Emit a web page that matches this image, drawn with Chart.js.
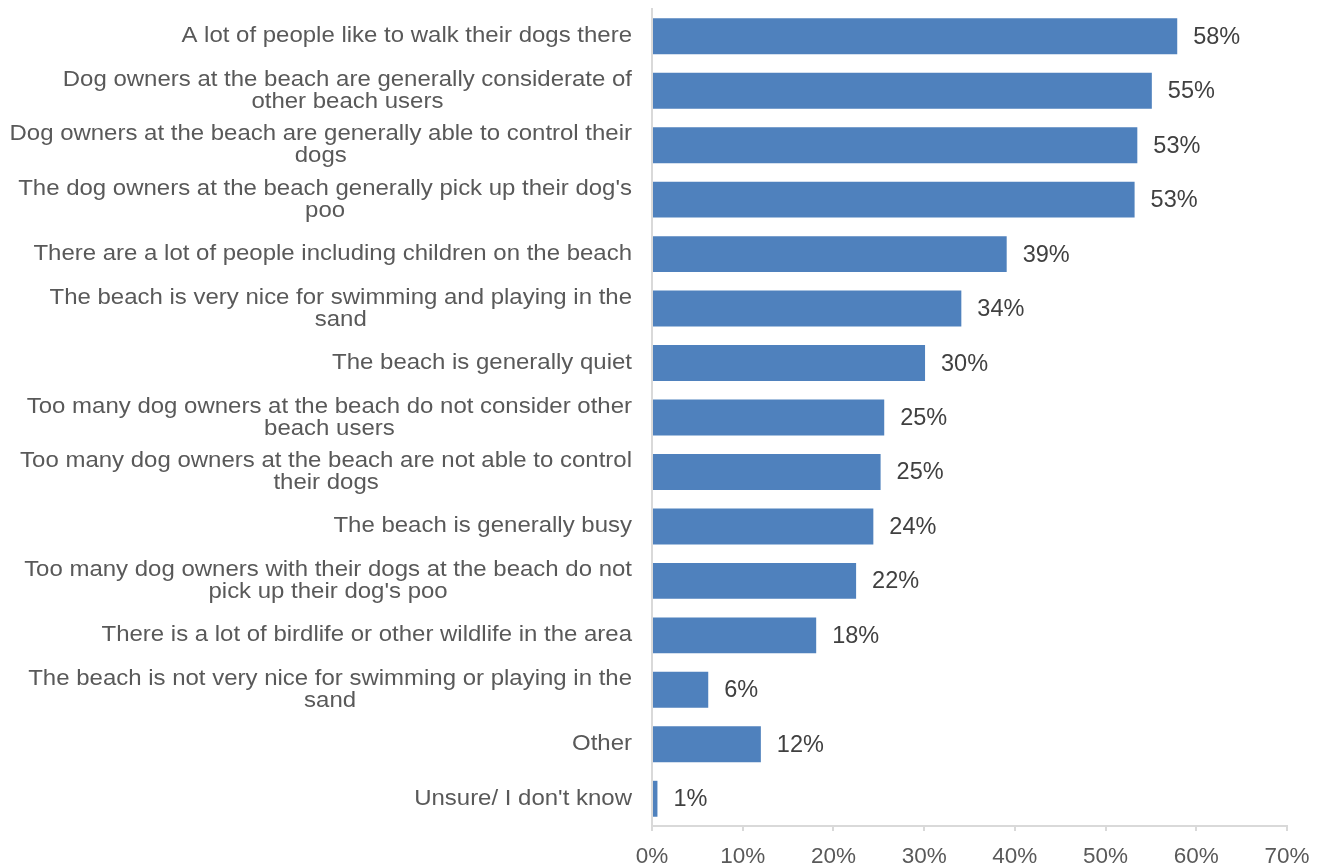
<!DOCTYPE html>
<html>
<head>
<meta charset="utf-8">
<script src="https://cdn.jsdelivr.net/npm/chart.js@4/dist/chart.umd.min.js"></script>
<style>
  html, body { margin: 0; padding: 0; background: #fff; }
  #wrap { width: 1328px; height: 866px; }
</style>
</head>
<body>
<div id="wrap"><canvas id="beachChart" width="1328" height="866"></canvas></div>
<script>
// Categories (line breaks as in the original)
const categories = [
  ["A lot of people like to walk their dogs there"],
  ["Dog owners at the beach are generally considerate of", "other beach users"],
  ["Dog owners at the beach are generally able to control their", "dogs"],
  ["The dog owners at the beach generally pick up their dog's", "poo"],
  ["There are a lot of people including children on the beach"],
  ["The beach is very nice for swimming and playing in the", "sand"],
  ["The beach is generally quiet"],
  ["Too many dog owners at the beach do not consider other", "beach users"],
  ["Too many dog owners at the beach are not able to control", "their dogs"],
  ["The beach is generally busy"],
  ["Too many dog owners with their dogs at the beach do not", "pick up their dog's poo"],
  ["There is a lot of birdlife or other wildlife in the area"],
  ["The beach is not very nice for swimming or playing in the", "sand"],
  ["Other"],
  ["Unsure/ I don't know"]
];

// Share of respondents (%)
const values = [57.9, 55.1, 53.5, 53.2, 39.1, 34.1, 30.1, 25.6, 25.2, 24.4, 22.5, 18.1, 6.2, 12.0, 0.6];
const valueLabels = ["58%", "55%", "53%", "53%", "39%", "34%", "30%", "25%", "25%", "24%", "22%", "18%", "6%", "12%", "1%"];

// x axis ticks
const xTicks = [0, 10, 20, 30, 40, 50, 60, 70];

const FONT = "'Liberation Sans', Arial, sans-serif";

// Draw the category labels: block right-aligned, lines centred inside the block
// (text in the original is a bit wider than plain Arial, so stretch it slightly)
const categoryLabels = {
  id: 'categoryLabels',
  afterDraw(chart) {
    const ctx = chart.ctx;
    const y = chart.scales.y;
    const lineH = 22;
    const stretch = 1.09;
    const right = chart.chartArea.left - 20;
    ctx.save();
    ctx.font = '22px ' + FONT;
    ctx.fillStyle = '#595959';
    ctx.textBaseline = 'middle';
    ctx.textAlign = 'center';
    categories.forEach((lines, i) => {
      const cy = y.getPixelForValue(i);
      const maxW = Math.max(...lines.map(l => ctx.measureText(l).width)) * stretch;
      const top = cy - (lines.length - 1) * lineH / 2;
      lines.forEach((l, k) => {
        ctx.save();
        ctx.translate(right - maxW / 2, top + k * lineH);
        ctx.scale(stretch, 1);
        ctx.fillText(l, 0, 0);
        ctx.restore();
      });
    });
    ctx.restore();
  }
};

// Value labels to the right of each bar
const valueLabelPlugin = {
  id: 'valueLabels',
  afterDatasetsDraw(chart) {
    const ctx = chart.ctx;
    const meta = chart.getDatasetMeta(0);
    ctx.save();
    ctx.font = '23.5px ' + FONT;
    ctx.fillStyle = '#404040';
    ctx.textAlign = 'left';
    ctx.textBaseline = 'middle';
    meta.data.forEach((bar, i) => {
      ctx.fillText(valueLabels[i], bar.x + 16, bar.y + 1);
    });
    ctx.restore();
  }
};

new Chart(document.getElementById('beachChart'), {
  type: 'bar',
  data: {
    labels: categories.map(c => c.join(' ')),
    datasets: [{
      data: values,
      backgroundColor: '#4f81bd',
      barPercentage: 0.66,
      categoryPercentage: 1.0
    }]
  },
  options: {
    indexAxis: 'y',
    responsive: false,
    animation: false,
    layout: { padding: { top: 9, right: 41, bottom: 0, left: 0 } },
    plugins: { legend: { display: false }, tooltip: { enabled: false } },
    scales: {
      x: {
        min: 0,
        max: 70,
        afterBuildTicks(scale) { scale.ticks = xTicks.map(v => ({ value: v })); },
        afterFit(scale) { scale.height = 40; },
        grid: { drawOnChartArea: false, drawTicks: true, tickLength: 5, color: '#d9d9d9', lineWidth: 2 },
        border: { display: true, color: '#d9d9d9', width: 2 },
        ticks: {
          callback: v => v + '%',
          color: '#595959',
          font: { family: FONT, size: 22.5 },
          padding: 12,
          maxRotation: 0
        }
      },
      y: {
        afterFit(scale) { scale.width = 652; },
        grid: { drawOnChartArea: false, drawTicks: false },
        border: { display: true, color: '#d9d9d9', width: 2 },
        ticks: { display: false }
      }
    }
  },
  plugins: [categoryLabels, valueLabelPlugin]
});
</script>
</body>
</html>
